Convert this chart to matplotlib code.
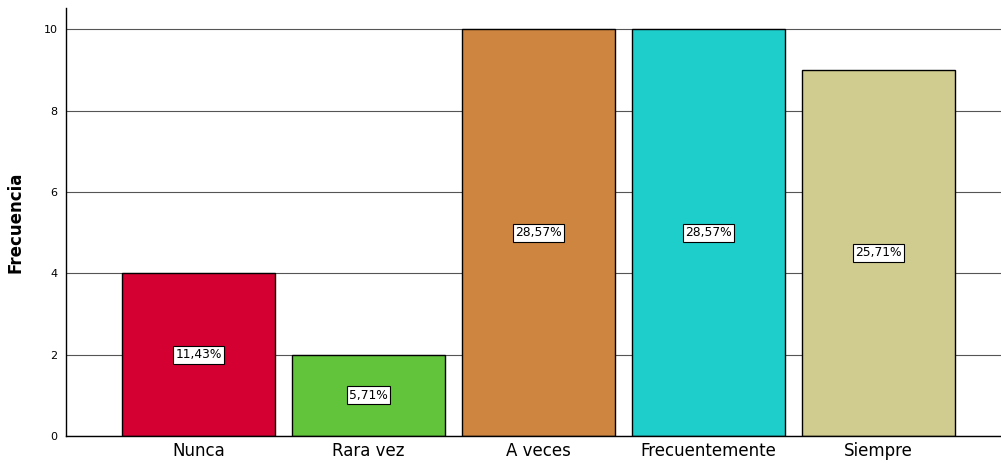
import matplotlib
matplotlib.use("Agg")
import matplotlib.pyplot as plt

categories = ["Nunca", "Rara vez", "A veces", "Frecuentemente", "Siempre"]
counts = [4, 2, 10, 10, 9]
percent_labels = ["11,43%", "5,71%", "28,57%", "28,57%", "25,71%"]
colors = ["#D50032", "#62C43A", "#CD853F", "#1ECECB", "#D0CB8F"]
yticks = [0, 2, 4, 6, 8, 10]

fig = plt.figure(figsize=(10.01, 4.65), dpi=100)
ax = fig.add_axes([66 / 1001, 1 - 436 / 465, 1 - 66 / 1001, (436 - 8) / 465])

x = range(len(categories))
ax.bar(x, counts, width=0.9, color=colors, edgecolor="black", linewidth=1.0, zorder=2)

for i, (c, lab) in enumerate(zip(counts, percent_labels)):
    ax.text(i, c / 2, lab, ha="center", va="center", fontsize=8.8, zorder=3,
            bbox=dict(boxstyle="square,pad=0.2", facecolor="white", edgecolor="black", linewidth=0.8))

ax.set_xlim(-0.78, 4.72)
ax.set_ylim(0, 10.52)
ax.set_yticks(yticks)
ax.set_yticklabels([str(t) for t in yticks], fontsize=8)
ax.set_xticks(list(x))
ax.set_xticklabels(categories, fontsize=12)
ax.tick_params(axis="y", length=0, pad=6)
ax.tick_params(axis="x", length=0, pad=4)
ax.yaxis.grid(True, color="#555555", linewidth=0.8, zorder=0)
ax.set_axisbelow(True)
for side in ["top", "right"]:
    ax.spines[side].set_visible(False)
ax.spines["left"].set_linewidth(1.0)
ax.spines["bottom"].set_linewidth(1.0)
ax.set_ylabel("Frecuencia", fontsize=12, fontweight="bold", labelpad=14)

fig.savefig("out.png", dpi=100)
